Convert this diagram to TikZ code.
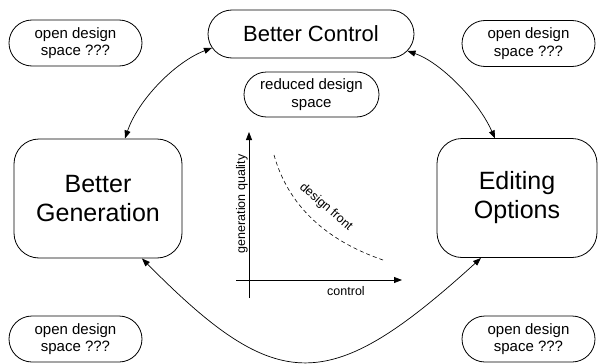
\documentclass[tikz,border=0pt]{standalone}
\usepackage{fontspec}
\setmainfont{Liberation Sans}
\usetikzlibrary{arrows.meta,shapes.misc}
\begin{document}
\begin{tikzpicture}[x=1pt,y=-1pt,
  pill/.style={draw, rounded rectangle, line width=0.8pt, inner sep=0pt, align=center,
    minimum height=46pt, minimum width=133pt, font=\fontsize{15}{17.5}\selectfont},
  bigbox/.style={draw, rectangle, rounded corners=25pt, line width=0.8pt, inner sep=0pt, align=center,
    minimum height=119pt, font=\fontsize{25}{29}\selectfont},
  tip/.style={Triangle[length=8pt,width=6pt]},
  conn/.style={line width=0.7pt, {Triangle[length=8pt,width=6pt]}-{Triangle[length=8pt,width=6pt]}},
  axis/.style={line width=0.8pt, -{Triangle[length=8pt,width=6pt]}},
  axlabel/.style={font=\fontsize{12.5}{14}\selectfont, inner sep=0pt}
]
\fill[white] (0,0) rectangle (600,364);
\useasboundingbox (0,0) rectangle (600,364);

\node[pill] (tl) at (75.5,43) {open design\\space ???};
\node[pill] (tr) at (528.5,43.5) {open design\\space ???};
\node[pill] (bl) at (75.5,339) {open design\\space ???};
\node[pill] (br) at (528.5,339) {open design\\space ???};
\node[pill, minimum width=135pt, minimum height=45pt] (rd) at (311.5,94.5) {reduced design\\space};
\node[pill, minimum width=206pt, minimum height=48pt, font=\fontsize{22}{25}\selectfont] (bc) at (311,34) {Better Control};

\node[bigbox, minimum width=168pt] (bg) at (98,198.5) {Better\\Generation};
\node[bigbox, minimum width=160pt] (eo) at (517,198) {Editing\\Options};

% connectors
\coordinate (bgt) at (125,138.5);
\coordinate (bgb) at (142,258.5);
\coordinate (eot) at (495,138.5);
\coordinate (eob) at (481,258);
\draw[conn] (bc.188) .. controls (175,62) and (138,100) .. (bgt);
\draw[conn] (bc.-10) .. controls (440,62) and (478,100) .. (eot);
\draw[conn] (bgb) .. controls (278,396) and (329,396) .. (eob);

% plot
\coordinate (o) at (249,280);
\coordinate (ybot) at (249,298);
\coordinate (ytop) at (249,132);
\coordinate (xl) at (236,280);
\coordinate (xr) at (402,280);
\draw[axis] (ybot) -- (ytop);
\draw[axis] (xl) -- (xr);
\draw[line width=0.6pt, dash pattern=on 4pt off 3pt] (274,155) .. controls (288,205) and (325,240) .. (383,260);
\node[axlabel, rotate=90] (gq) at (242,204) {generation quality};
\node[axlabel] (ctl) at (346,291) {control};
\node[axlabel, rotate=-41] (df) at (326,207) {design front};
\end{tikzpicture}
\end{document}
